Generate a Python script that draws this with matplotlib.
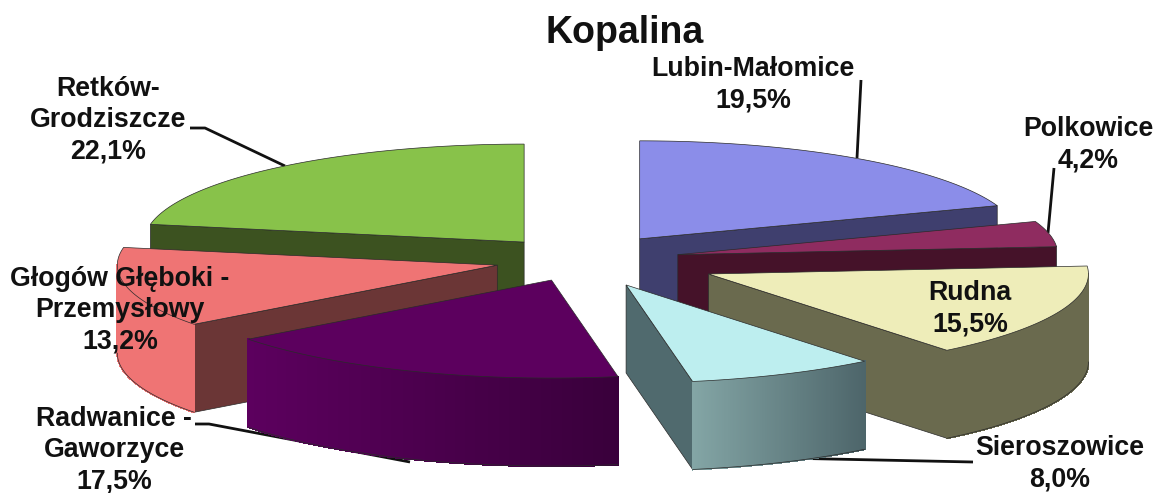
import numpy as np
import matplotlib
matplotlib.use("Agg")
import matplotlib.pyplot as plt
from matplotlib.collections import PolyCollection
from matplotlib.colors import to_rgb

plt.rcParams['font.family'] = ['Liberation Sans', 'DejaVu Sans']

# Share of each deposit area, clockwise from 12 o'clock
names = ["Lubin-Małomice", "Polkowice", "Rudna", "Sieroszowice",
         "Radwanice -\nGaworzyce", "Głogów Głęboki -\nPrzemysłowy", "Retków-\nGrodziszcze"]
values = [19.5, 4.2, 15.5, 8.0, 17.5, 13.2, 22.1]
explode = [0.264, 0.258, 0.362, 0.28, 0.22, 0.229, 0.238]

top_colors = ["#8B8DE9", "#8F2C60", "#EEEDB9", "#BDEEEF", "#5C005E", "#EF7474", "#88C24A"]
wall_colors = ["#3F3F6E", "#451229", "#6A6A4E", "#506A6E", "#5C005E", "#6B3636", "#3C5220"]
rim_left = ["#3F3F6E", "#451229", "#6A6A4E", "#83A5A5", "#5C005E", "#EF7474", "#3C5220"]
rim_right = ["#3F3F6E", "#451229", "#6A6A4E", "#4D656A", "#39003B", "#EF7474", "#3C5220"]
draw_order = [0, 6, 1, 5, 2, 3, 4]

# Oblique projection of the pie, in pixel units
CX, CY = 582, 260
RX, RY = 380, 98
DEPTH = 88
OUTLINE = "#2a2a2a"

label_pos = [(753, 85), (1088, 145), (970, 309), (1060, 464), (114, 450), (120, 310), (108, 120)]
leaders = [
    [(861, 80), (857, 158)],
    [(1054, 168), (1048, 233)],
    [(973, 462), (782, 458)],
    [(195, 424), (209, 424), (410, 462)],
    [(190, 128), (205, 128), (285, 166)],
]

fig = plt.figure(figsize=(11.54, 4.93), dpi=100)
ax = fig.add_axes([0, 0, 1, 1])
ax.set_xlim(0, 1154)
ax.set_ylim(493, 0)
ax.axis("off")


def rim_points(ox, oy, a0, a1, n=80):
    t = np.linspace(a0, a1, n)
    return ox + RX * np.sin(t), oy - RY * np.cos(t)


for path in leaders:
    xs, ys = zip(*path)
    ax.plot(xs, ys, color="#111111", lw=2.0, zorder=1, solid_capstyle="butt")

edges = np.radians(np.concatenate([[0], np.cumsum(values)]) / sum(values) * 360)

for z, i in enumerate(draw_order):
    a0, a1 = edges[i], edges[i + 1]
    mid = (a0 + a1) / 2
    ox = CX + explode[i] * RX * np.sin(mid)
    oy = CY - explode[i] * RY * np.cos(mid)
    base = 2 + z * 4
    x, y = rim_points(ox, oy, a0, a1)

    # radial walls, only those turned towards the viewer
    if np.sin(a0) < 0:
        ax.fill([ox, x[0], x[0], ox], [oy, y[0], y[0] + DEPTH, oy + DEPTH],
                facecolor=wall_colors[i], edgecolor=OUTLINE, lw=0.5, zorder=base)
    if np.sin(a1) > 0:
        ax.fill([ox, x[-1], x[-1], ox], [oy, y[-1], y[-1] + DEPTH, oy + DEPTH],
                facecolor=wall_colors[i], edgecolor=OUTLINE, lw=0.5, zorder=base)

    # outer rim on the near half of the ellipse, shaded across its width
    front = (max(a0, np.pi / 2), min(a1, 3 * np.pi / 2))
    if front[1] > front[0]:
        xr, yr = rim_points(ox, oy, front[0], front[1], n=160)
        c_l, c_r = np.array(to_rgb(rim_left[i])), np.array(to_rgb(rim_right[i]))
        xmin, xmax = xr.min(), xr.max()
        quads, shades = [], []
        for k in range(len(xr) - 1):
            quads.append([(xr[k], yr[k]), (xr[k + 1], yr[k + 1]),
                          (xr[k + 1], yr[k + 1] + DEPTH), (xr[k], yr[k] + DEPTH)])
            f = ((xr[k] + xr[k + 1]) / 2 - xmin) / (xmax - xmin)
            shades.append(c_l + (c_r - c_l) * f)
        ax.add_collection(PolyCollection(quads, facecolors=shades, edgecolors=shades,
                                         linewidths=0.8, antialiaseds=False, zorder=base + 1))
        ax.plot(xr, yr + DEPTH, color=OUTLINE, lw=0.5, zorder=base + 1)

    # top face
    ax.fill(np.r_[ox, x], np.r_[oy, y], facecolor=top_colors[i],
            edgecolor=OUTLINE, lw=0.5, zorder=base + 2)

for name, value, (lx, ly) in zip(names, values, label_pos):
    text = f"{name}\n{value:.1f}%".replace(".", ",")
    ax.text(lx, ly, text, ha="center", va="center", fontsize=19.3, fontweight="bold",
            color="#111111", linespacing=1.27, zorder=50)

ax.text(625, 33, "Kopalina", ha="center", va="center", fontsize=27,
        fontweight="bold", color="#111111", zorder=50)

fig.savefig("out.png", dpi=100)
